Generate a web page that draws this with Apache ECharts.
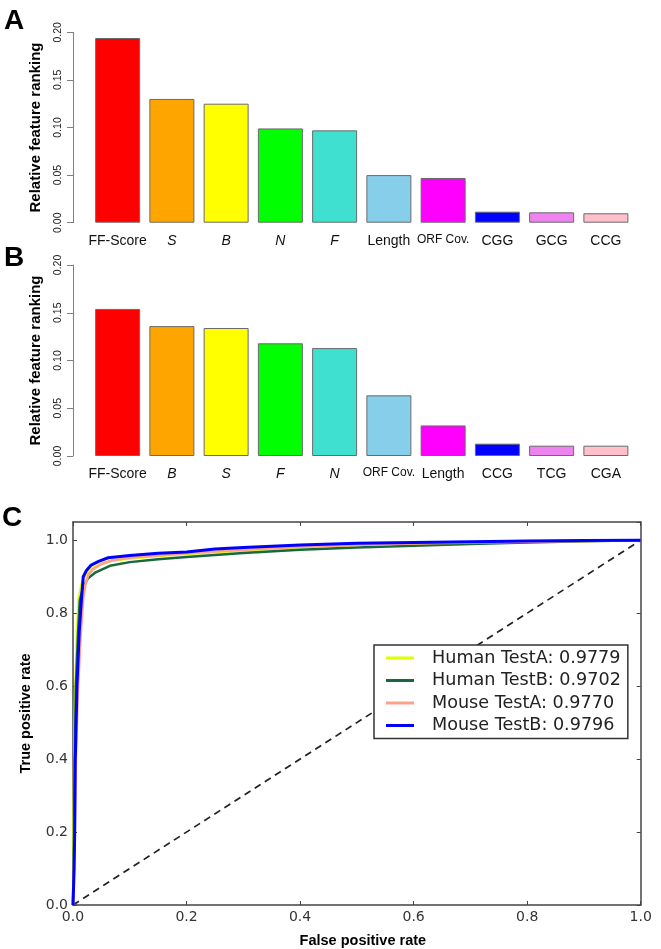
<!DOCTYPE html>
<html><head><meta charset="utf-8">
<script src="https://cdn.jsdelivr.net/npm/echarts@6/dist/echarts.min.js"></script>
<style>html,body{margin:0;padding:0;background:#fff}#c{width:661px;height:949px}</style>
</head><body><div id="c"></div>
<script>
// ---------- data ----------
const catsA = ['FF-Score','S','B','N','F','Length','ORF Cov.','CGG','GCG','CCG'];
const valsA = [0.194,0.130,0.125,0.099,0.097,0.050,0.047,0.0116,0.0109,0.0099];
const catsB = ['FF-Score','B','S','F','N','ORF Cov.','Length','CCG','TCG','CGA'];
const valsB = [0.154,0.136,0.134,0.118,0.113,0.0635,0.032,0.0129,0.0108,0.0108];
const barColors = ['#FF0000','#FFA500','#FFFF00','#00FF00','#40E0D0','#87CEEB','#FF00FF','#0000FF','#EE82EE','#FFC0CB'];
const italicLabels = ['S','B','N','F'];
const rankTicks = [0, 0.05, 0.10, 0.15, 0.20];
const rocTicks = [0.0, 0.2, 0.4, 0.6, 0.8, 1.0];

const rocNames = ['Human TestA: 0.9779','Human TestB: 0.9702','Mouse TestA: 0.9770','Mouse TestB: 0.9796'];
const rocColors = ['#DDFF00','#17693A','#FFA08A','#0000FF'];
const humanA = [[0,0],[0.001,0.2],[0.002,0.4],[0.004,0.6],[0.007,0.75],[0.010,0.84],[0.015,0.88],[0.022,0.905],[0.03,0.92],[0.045,0.932],[0.065,0.943],[0.1,0.95],[0.15,0.957],[0.2,0.962],[0.3,0.972],[0.4,0.981],[0.5,0.986],[0.6,0.99],[0.7,0.993],[0.8,0.996],[0.9,0.998],[1,1]];
const humanB = [[0,0],[0.002,0.2],[0.003,0.4],[0.005,0.6],[0.009,0.75],[0.012,0.836],[0.018,0.87],[0.026,0.895],[0.04,0.912],[0.065,0.93],[0.1,0.94],[0.15,0.948],[0.2,0.954],[0.3,0.965],[0.4,0.974],[0.5,0.98],[0.6,0.985],[0.7,0.99],[0.8,0.994],[0.9,0.997],[1,1]];
const mouseA = [[0,0],[0.003,0.2],[0.005,0.4],[0.009,0.6],[0.014,0.75],[0.018,0.84],[0.022,0.88],[0.027,0.905],[0.035,0.92],[0.05,0.935],[0.07,0.945],[0.1,0.952],[0.2,0.964],[0.3,0.974],[0.4,0.982],[0.5,0.987],[0.6,0.991],[0.8,0.996],[1,1]];
const mouseB = [[0,0],[0.002,0.1],[0.003,0.2],[0.004,0.4],[0.007,0.6],[0.011,0.75],[0.015,0.84],[0.018,0.9],[0.024,0.918],[0.032,0.932],[0.045,0.942],[0.062,0.952],[0.1,0.958],[0.15,0.964],[0.2,0.968],[0.25,0.976],[0.3,0.98],[0.4,0.987],[0.5,0.992],[0.6,0.994],[0.7,0.996],[0.8,0.998],[0.9,0.999],[1,1]];
const diagonal = [[0,0],[1,1]];
const rocSeries = [humanA, humanB, mouseA, mouseB];

// ---------- options ----------
const chart = echarts.init(document.getElementById('c'), null, {renderer:'canvas'});
const sans = 'Liberation Sans, Arial, sans-serif';
const dv = 'DejaVu Sans, sans-serif';

function catAxis(idx, cats){
  return {
    type:'category', gridIndex: idx, data: cats,
    axisLine:{show:false}, axisTick:{show:false}, splitLine:{show:false},
    axisLabel:{
      interval:0, margin:11, fontSize:14, color:'#111', fontFamily:sans,
      formatter: v => italicLabels.includes(v) ? '{i|'+v+'}' : (v==='ORF Cov.' ? '{s|'+v+'}' : v),
      rich:{
        i:{fontStyle:'italic', fontSize:14, fontFamily:sans, color:'#111'},
        s:{fontSize:12, fontFamily:sans, color:'#111'}
      }
    }
  };
}
function rankAxis(idx){
  return {
    type:'value', gridIndex: idx, min: rankTicks[0], max: rankTicks[rankTicks.length-1],
    interval: rankTicks[1]-rankTicks[0], offset: 17.5,
    axisLine:{show:true, lineStyle:{color:'#808080', width:1}},
    axisTick:{show:true, length:6, lineStyle:{color:'#808080'}},
    splitLine:{show:false},
    axisLabel:{rotate:90, margin:9, fontSize:10.5, color:'#222', fontFamily:sans, formatter: v => v.toFixed(2)},
    name:'Relative feature ranking', nameLocation:'middle', nameGap:30,
    nameTextStyle:{fontSize:15, fontWeight:'bold', fontFamily:sans, color:'#000'}
  };
}
function barSeries(idx, vals){
  return {
    type:'bar', xAxisIndex: idx, yAxisIndex: idx, barWidth:45, silent:true,
    data: vals.map((v,i)=>({value:v, itemStyle:{color: barColors[i]}})),
    itemStyle:{borderColor:'#6a6a6a', borderWidth:1}
  };
}
const rocLabel = {margin:5, fontSize:14, color:'#333', fontFamily:dv, formatter: v => v.toFixed(1)};
const frameLine = {show:true, onZero:false, lineStyle:{color:'#444', width:1.5}};
const inTick = {show:true, inside:true, length:4, lineStyle:{color:'#444'}};

const option = {
  animation:false,
  backgroundColor:'#fff',
  grid:[
    {left:90.5, right:28, top:32.3, height:190.4},
    {left:90.5, right:28, top:265, height:191},
    {left:73, right:20.3, top:522, height:383.7}
  ],
  xAxis:[
    catAxis(0, catsA),
    catAxis(1, catsB),
    {type:'value', gridIndex:2, min:rocTicks[0], max:rocTicks[rocTicks.length-1], interval:rocTicks[1]-rocTicks[0],
     axisLine:frameLine, axisTick:inTick, splitLine:{show:false}, axisLabel:rocLabel,
     name:'False positive rate', nameLocation:'middle', nameGap:28,
     nameTextStyle:{fontSize:14.5, fontWeight:'bold', fontFamily:sans, color:'#000', padding:[0,0,0,12]}},
    {type:'value', gridIndex:2, position:'top', min:rocTicks[0], max:rocTicks[rocTicks.length-1], interval:rocTicks[1]-rocTicks[0],
     axisLine:frameLine, axisTick:inTick, splitLine:{show:false}, axisLabel:{show:false}}
  ],
  yAxis:[
    rankAxis(0),
    rankAxis(1),
    {type:'value', gridIndex:2, min:rocTicks[0], max:1.05, interval:rocTicks[1]-rocTicks[0],
     axisLine:frameLine, axisTick:inTick, splitLine:{show:false},
     axisLabel:Object.assign({showMaxLabel:false}, rocLabel),
     name:'True positive rate', nameLocation:'middle', nameGap:40,
     nameTextStyle:{fontSize:14.5, fontWeight:'bold', fontFamily:sans, color:'#000'}},
    {type:'value', gridIndex:2, position:'right', min:rocTicks[0], max:1.05, interval:rocTicks[1]-rocTicks[0],
     axisLine:frameLine, axisTick:inTick, splitLine:{show:false}, axisLabel:{show:false}}
  ],
  legend:{
    data: rocNames, orient:'vertical', left:374, top:645,
    icon:'rect', itemWidth:28, itemHeight:3, itemGap:2.5,
    textStyle:{fontFamily:dv, fontSize:17.6, color:'#222', padding:[0,0,0,13], lineHeight:20},
    borderColor:'#333', borderWidth:1.5, padding:[3,7,3,12], backgroundColor:'#fff',
    selectedMode:false
  },
  graphic:[
    {type:'text', left:4, top:7, style:{text:'A', fontSize:28, fontWeight:'bold', fontFamily:sans, fill:'#000'}},
    {type:'text', left:4, top:244, style:{text:'B', fontSize:28, fontWeight:'bold', fontFamily:sans, fill:'#000'}},
    {type:'text', left:2, top:504, style:{text:'C', fontSize:28, fontWeight:'bold', fontFamily:sans, fill:'#000'}}
  ],
  series:[
    barSeries(0, valsA),
    barSeries(1, valsB),
    {type:'line', xAxisIndex:2, yAxisIndex:2, data:diagonal, symbol:'none', silent:true,
     lineStyle:{color:'#222', width:1.7, type:[7,5]}},
    ...rocSeries.map((d,i)=>({
      type:'line', name: rocNames[i], xAxisIndex:2, yAxisIndex:2, data:d, symbol:'none', silent:true,
      color: rocColors[i], lineStyle:{color: rocColors[i], width: i===3 ? 3 : 2.5}
    }))
  ]
};
chart.setOption(option);
</script>
</body></html>
